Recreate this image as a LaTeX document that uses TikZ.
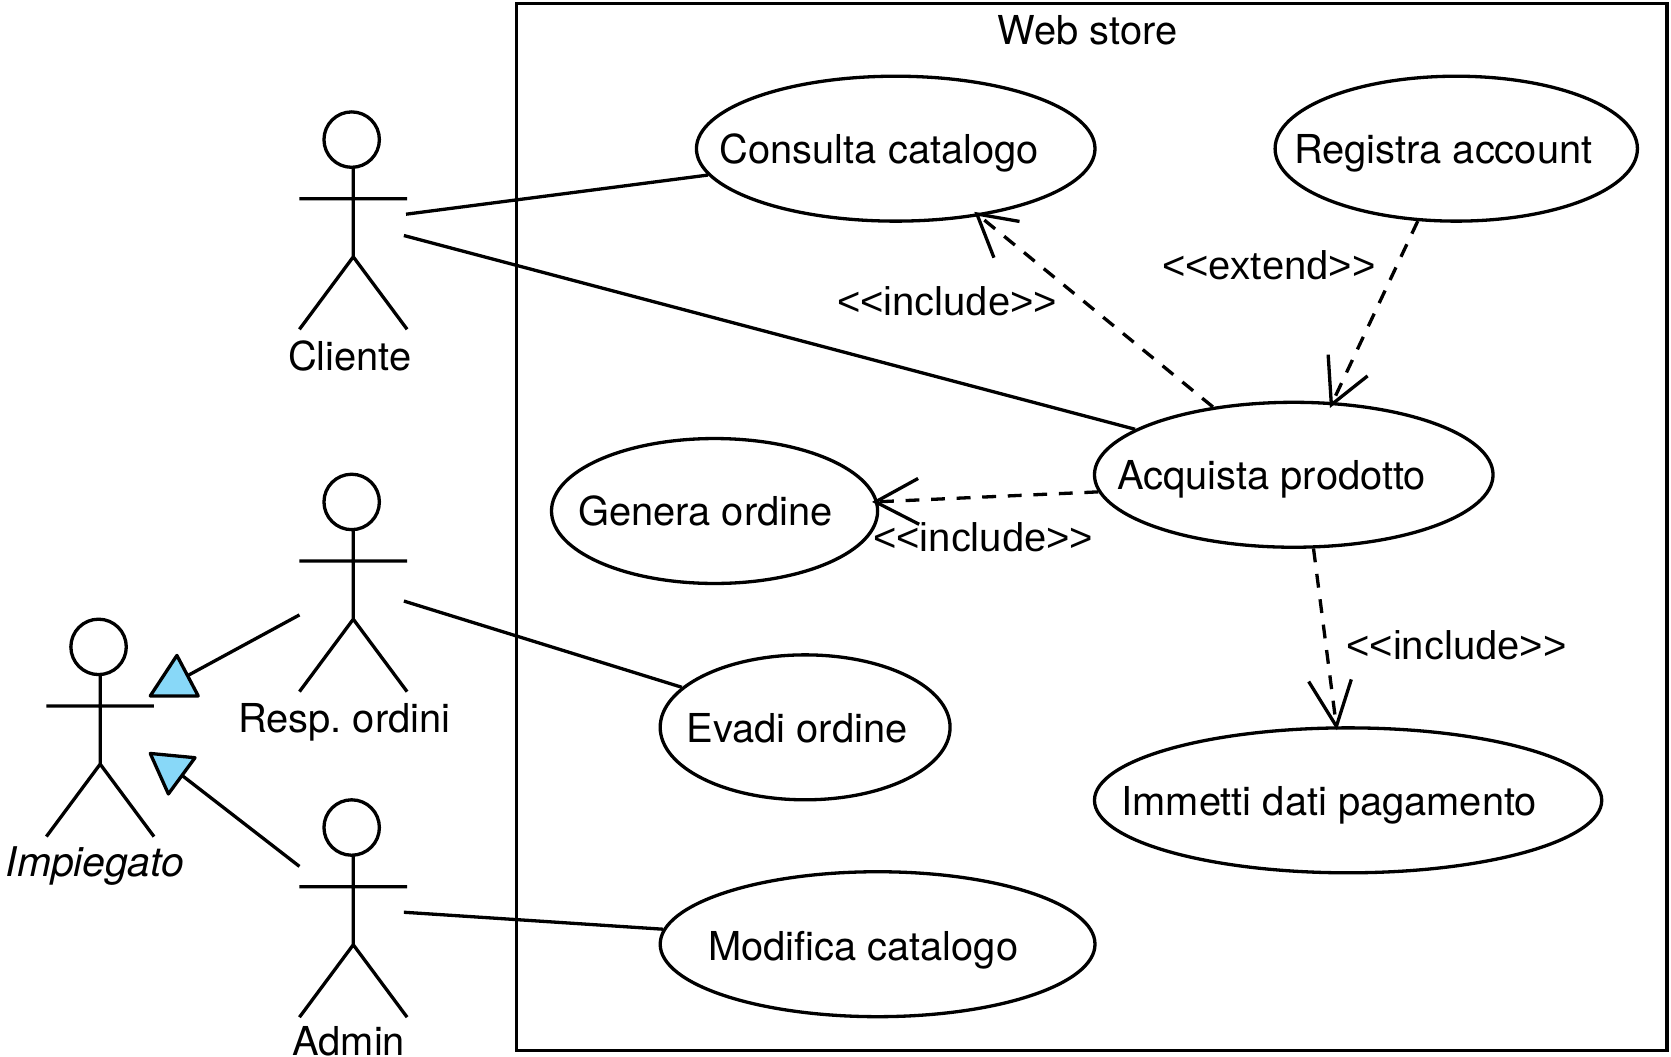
\documentclass[tikz,border=0pt]{standalone}
\usepackage{fontspec}
\setmainfont{TeX Gyre Heros}
\newfontfamily\stereofont{Liberation Sans}
\usetikzlibrary{shapes.geometric}
\definecolor{tri}{HTML}{88D8F8}
\tikzset{
  x=0.5pt,y=-0.5pt,
  line/.style={line width=1.55pt,black},
  usecase/.style={draw,ellipse,line width=1.55pt,inner sep=0pt,minimum height=68pt},
  lab/.style={font=\fontsize{18.7}{20}\selectfont,inner sep=0pt,anchor=base west},
  stereo/.style={font=\stereofont\fontsize{18.75}{20}\selectfont,inner sep=0pt,anchor=base west},
  dep/.style={line,dash pattern=on 6.5pt off 5.5pt},
  tribox/.style={line,fill=tri,line join=round},
}
\newcommand{\stick}[3]{%
  \node[draw,circle,line width=1.55pt,minimum size=26pt,inner sep=0pt] (#3h) at (#1-1.5,#2) {};
  \coordinate (#3n) at (#1,#2+26);
  \coordinate (#3w) at (#1,#2+110);
  \coordinate (#3a) at (#1-50.5,#2+55.5);
  \coordinate (#3b) at (#1+50.5,#2+55.5);
  \coordinate (#3l) at (#1-50.5,#2+178);
  \coordinate (#3r) at (#1+50.5,#2+178);
  \draw[line] (#3n) -- (#3w) -- (#3l) (#3w) -- (#3r) (#3a) -- (#3b);
}
\begin{document}
\begin{tikzpicture}
\useasboundingbox (0,0) rectangle (1568,991);
\node[draw,line width=1.55pt,minimum width=1079.5pt*0.5,minimum height=982pt*0.5,inner sep=0pt] (sys) at (1024.5,494.5) {};
\node[lab] (title) at (936,42) {Web store};
\stick{331.5}{131}{c}
\stick{331.5}{471}{o}
\stick{94}{607}{i}
\stick{331.5}{776.5}{m}
\node[lab] (tc) at (270,348) {Cliente};
\node[lab] (to) at (223,687) {Resp.\ ordini};
\node[lab,font=\fontsize{19.2}{20}\selectfont] (ti) at (5,822) {\itshape Impiegato};
\node[lab] (tm) at (274,990) {Admin};
\node[usecase,minimum width=187pt] (cons) at (840.5,139.5) {};
\node[usecase,minimum width=170pt] (reg) at (1366.5,139.5) {};
\node[usecase,minimum width=187pt] (acq) at (1214,445.5) {};
\node[usecase,minimum width=153pt] (gen) at (670.5,479.5) {};
\node[usecase,minimum width=136pt] (eva) at (755.5,682.5) {};
\node[usecase,minimum width=238pt] (imm) at (1265,751) {};
\node[usecase,minimum width=204pt] (mod) at (823.5,886) {};
\node[lab] (lcons) at (675,153) {Consulta catalogo};
\node[lab] (lreg) at (1214,153) {Registra account};
\node[lab] (lacq) at (1048,459) {Acquista prodotto};
\node[lab] (lgen) at (542,493) {Genera ordine};
\node[lab] (leva) at (644,697) {Evadi ordine};
\node[lab] (limm) at (1052,765) {Immetti dati pagamento};
\node[lab] (lmod) at (664,901) {Modifica catalogo};
\node[stereo] (d1) at (785,296) {<{}<include>{}>};
\node[stereo] (d2) at (1090,262) {<{}<extend>{}>};
\node[stereo] (d3) at (819,517.5) {<{}<include>{}>};
\node[stereo] (d4) at (1263,619) {<{}<include>{}>};
% associations
\coordinate (c1) at (381,201);
\coordinate (c2) at (379,221);
\coordinate (o1) at (379,564);
\coordinate (m1) at (379,856);
\draw[line] (c1) -- (cons.188);
\draw[line] (c2) -- (acq.164);
\draw[line] (o1) -- (eva.162);
\draw[line] (m1) -- (mod.176);
% generalisations
\coordinate (ot) at (281,577);
\coordinate (mt) at (281,813);
\coordinate (t1a) at (141,653);
\coordinate (t1b) at (186,653);
\coordinate (t1c) at (166,615);
\coordinate (t2a) at (141,707);
\coordinate (t2b) at (183,711);
\coordinate (t2c) at (158,745);
\draw[tribox] (t1a) -- (t1b) -- (t1c) -- cycle;
\draw[tribox] (t2a) -- (t2b) -- (t2c) -- cycle;
\draw[line] (ot) -- (176,634);
\draw[line] (mt) -- (170,727);
% dependencies
\coordinate (tipa) at ([shift={(-2,-2)}]cons.-39);
\coordinate (tipb) at ([shift={(-1,2.5)}]acq.62);
\coordinate (tipc) at ([shift={(-2.5,-0.5)}]gen.3.6);
\coordinate (tipd) at (imm.99.6);
\draw[dep] (acq.140) -- (tipa);
\draw[line] ([shift={(16,41)}]tipa) -- (tipa) -- ([shift={(40,7)}]tipa);
\draw[dep] (reg.242) -- (tipb);
\draw[line] ([shift={(-3,-47)}]tipb) -- (tipb) -- ([shift={(34,-27)}]tipb);
\draw[dep] (acq.185) -- (tipc);
\draw[line] ([shift={(40,-22)}]tipc) -- (tipc) -- ([shift={(41,21)}]tipc);
\draw[dep] (acq.-75.5) -- (tipd);
\draw[line] ([shift={(-26,-42)}]tipd) -- (tipd) -- ([shift={(14,-44)}]tipd);
\end{tikzpicture}
\end{document}
